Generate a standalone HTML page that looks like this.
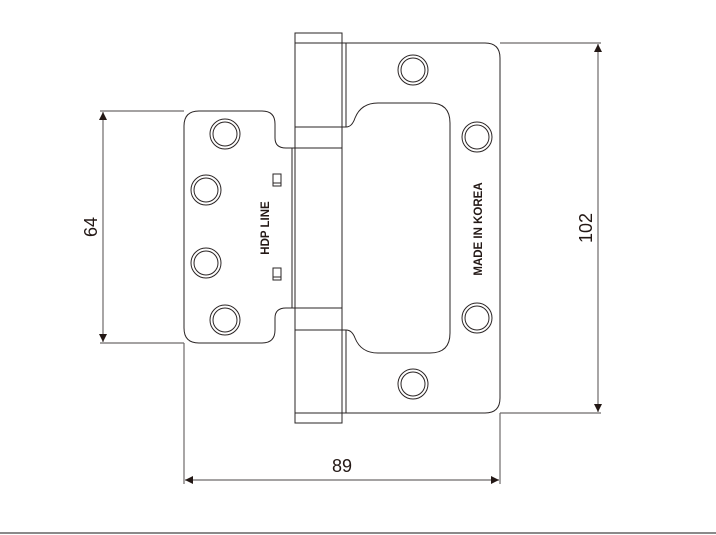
<!DOCTYPE html>
<html><head><style>html,body{margin:0;padding:0;background:#fff}svg{display:block}</style></head>
<body>
<svg width="716" height="535" viewBox="0 0 716 535" xmlns="http://www.w3.org/2000/svg" font-family="Liberation Sans, sans-serif">
<defs>
<marker id="a" viewBox="0 0 10 10" refX="10" refY="5" markerWidth="14" markerHeight="8" markerUnits="userSpaceOnUse" orient="auto-start-reverse"><path d="M0,0 L10,5 L0,10 Z" fill="#231815"/></marker>
</defs>
<g fill="none" stroke="#2a2424" stroke-width="1">
<!-- left leaf -->
<path d="M199,111 H262 Q275,111 275,124 V138 Q275,148 286,148 H295 V308 H286 Q275,308 275,318 V330 Q275,343 262,343 H199 Q184,343 184,328 V126 Q184,111 199,111 Z"/>
<line x1="292" y1="148" x2="292" y2="308"/>
<!-- barrel -->
<rect x="295" y="33" width="47" height="390"/>
<line x1="295" y1="43" x2="342" y2="43"/>
<line x1="295" y1="127" x2="342" y2="127"/>
<line x1="295" y1="148" x2="342" y2="148"/>
<line x1="295" y1="308" x2="342" y2="308"/>
<line x1="295" y1="330" x2="342" y2="330"/>
<line x1="295" y1="413" x2="342" y2="413"/>
<!-- right leaf -->
<path d="M342,43 H485 Q500,43 500,58 V398 Q500,413 485,413 H342"/>
<line x1="346" y1="43" x2="346" y2="127"/>
<line x1="346" y1="330" x2="346" y2="413"/>
<path d="M342,127 H346 Q352,127 355,118 Q361,103 378,103 H430 Q450,103 450,123 V333 Q450,353 430,353 H378 Q361,353 355,338 Q352,330 346,330 H342"/>
<!-- holes -->
<g>
<circle cx="413" cy="70" r="15"/><circle cx="413" cy="70" r="12"/>
<circle cx="477" cy="137" r="15"/><circle cx="477" cy="137" r="12"/>
<circle cx="477" cy="318" r="15"/><circle cx="477" cy="318" r="12"/>
<circle cx="413" cy="384" r="15"/><circle cx="413" cy="384" r="12"/>
<circle cx="225" cy="134" r="15"/><circle cx="225" cy="134" r="12"/>
<circle cx="206" cy="190" r="15"/><circle cx="206" cy="190" r="12"/>
<circle cx="206" cy="263" r="15"/><circle cx="206" cy="263" r="12"/>
<circle cx="225" cy="320" r="15"/><circle cx="225" cy="320" r="12"/>
</g>
<rect x="273" y="174" width="8" height="12"/><line x1="273" y1="183" x2="281" y2="183"/>
<rect x="273" y="268" width="8" height="12"/><line x1="273" y1="277" x2="281" y2="277"/>
</g>
<!-- dimension lines -->
<g stroke="#6e6a6a" stroke-width="1.2" fill="none">
<line x1="100" y1="111" x2="184" y2="111"/>
<line x1="100" y1="343" x2="184" y2="343"/>
<line x1="500" y1="43" x2="601" y2="43"/>
<line x1="500" y1="413" x2="601" y2="413"/>
<line x1="184" y1="343" x2="184" y2="484"/>
<line x1="500" y1="413" x2="500" y2="484"/>
<line x1="103" y1="112" x2="103" y2="342" marker-start="url(#a)" marker-end="url(#a)"/>
<line x1="598" y1="44" x2="598" y2="412" marker-start="url(#a)" marker-end="url(#a)"/>
<line x1="185" y1="480" x2="499" y2="480" marker-start="url(#a)" marker-end="url(#a)"/>
<line x1="0" y1="533" x2="716" y2="533" stroke="#8a8a8a" stroke-width="2"/>
</g>
<g fill="#231815">
<text x="342" y="472" font-size="18" text-anchor="middle">89</text>
<text transform="translate(97,227) rotate(-90)" font-size="18" text-anchor="middle">64</text>
<text transform="translate(592,228) rotate(-90)" font-size="18" text-anchor="middle">102</text>
<text transform="translate(269,228) rotate(-90)" font-size="11.5" font-weight="bold" text-anchor="middle">HDP LINE</text>
<text transform="translate(482,229) rotate(-90)" font-size="11.5" font-weight="bold" text-anchor="middle">MADE IN KOREA</text>
</g>
</svg>
</body></html>
